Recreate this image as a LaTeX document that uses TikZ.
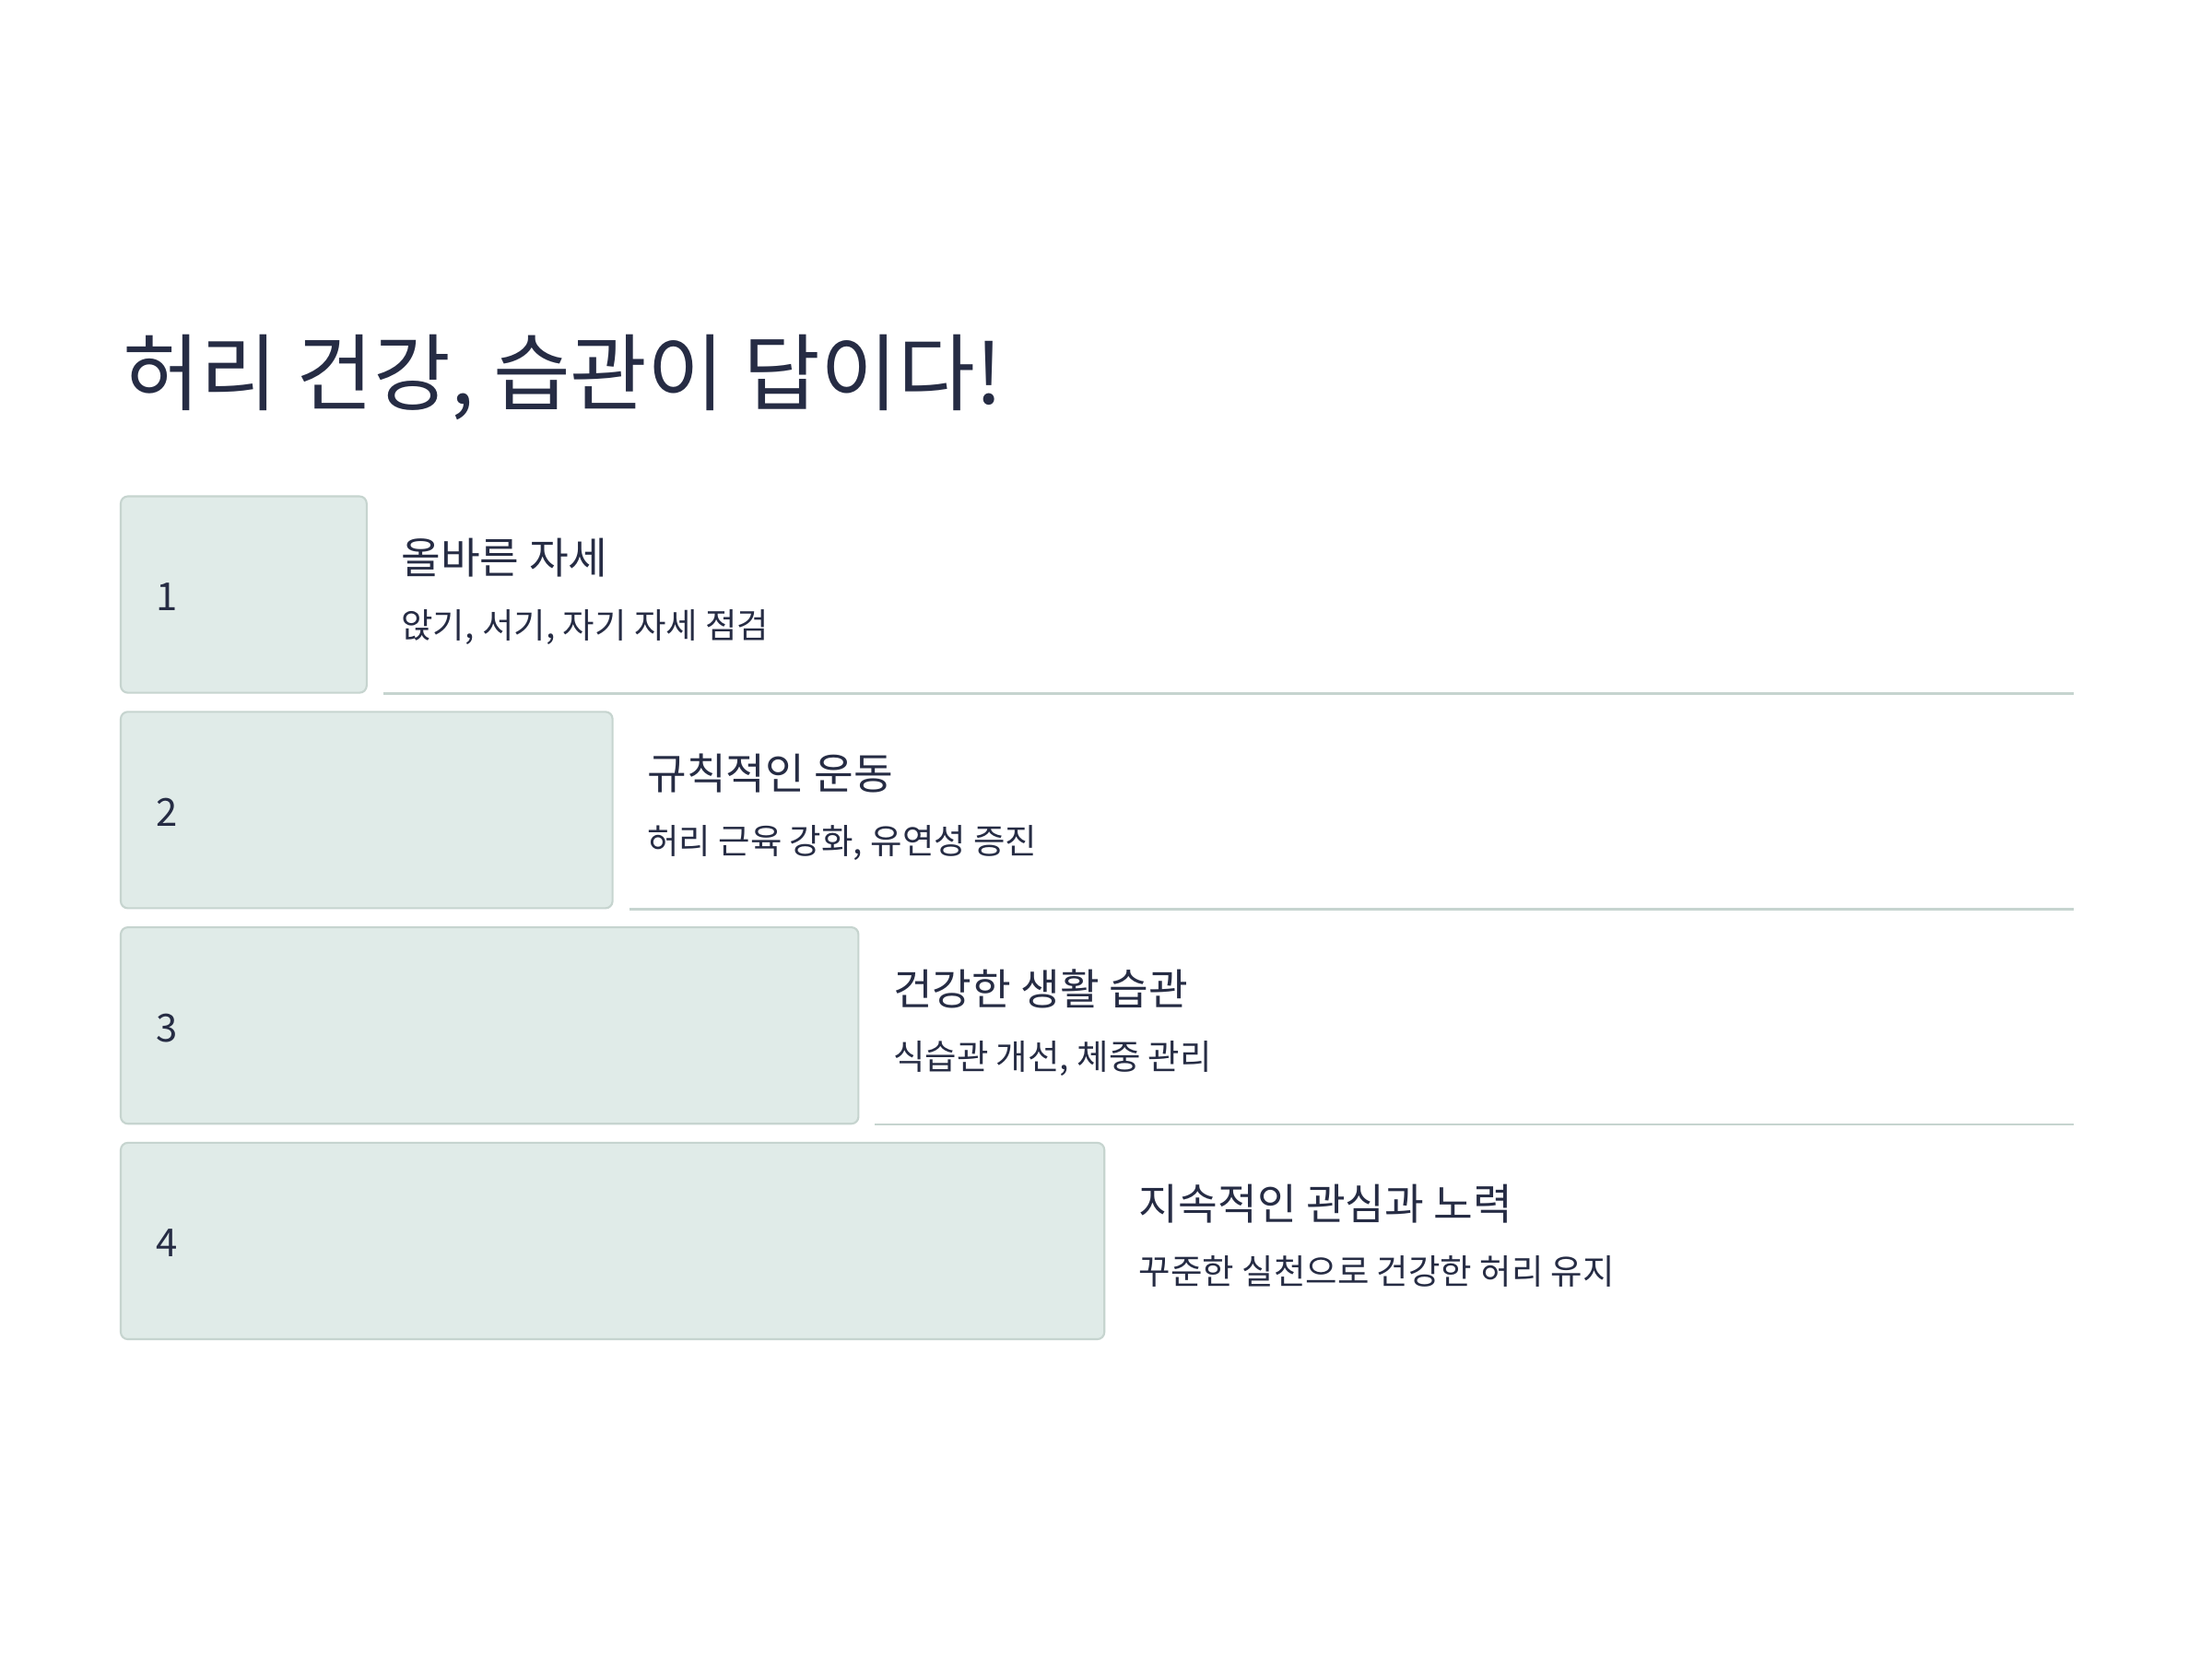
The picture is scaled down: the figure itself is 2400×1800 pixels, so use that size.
\documentclass[tikz,border=0pt]{standalone}
\usepackage{fontspec}
\setmainfont{Noto Sans CJK KR}
\definecolor{ink}{HTML}{262C44}
\definecolor{boxfill}{HTML}{E0EBE8}
\definecolor{boxline}{HTML}{C6D4CF}
\tikzset{
  numbox/.style={draw=boxline, fill=boxfill, line width=0.6pt, rounded corners=2.2pt, inner sep=0pt, outer sep=0pt, anchor=north west, minimum height=2.13cm},
  numtxt/.style={text=ink, inner sep=0pt, anchor=base west, font=\fontsize{11.9}{14}\selectfont},
  headtxt/.style={text=ink, inner sep=0pt, anchor=base west, font=\fontsize{13.2}{16}\selectfont},
  subtxt/.style={text=ink, inner sep=0pt, anchor=base west, font=\fontsize{10.65}{13}\selectfont},
  titletxt/.style={text=ink, inner sep=0pt, anchor=base west, font=\fontsize{25.9}{31}\selectfont},
  sepline/.style={draw=boxline, line width=0.7pt}
}
\begin{document}
\begin{tikzpicture}[x=0.01cm,y=-0.01cm]
\useasboundingbox (0,0) rectangle (2400,1800);
\fill[white] (0,0) rectangle (2400,1800);
\node[titletxt] (title) at (133,438) {허리 건강, 습관이 답이다!};
\foreach \i/\h/\s in {1/올바른 자세/{앉기, 서기, 자기 자세 점검},
                      2/규칙적인 운동/{허리 근육 강화, 유연성 증진},
                      3/건강한 생활 습관/{식습관 개선, 체중 관리},
                      4/지속적인 관심과 노력/{꾸준한 실천으로 건강한 허리 유지}} {
  \pgfmathsetmacro\boxtop{538.5+233.8*(\i-1)}
  \pgfmathsetmacro\boxright{131+266.8*\i}
  \pgfmathsetmacro\boxw{266.8*\i*0.01}
  \node[numbox, minimum width=\boxw cm] (b\i) at (131,\boxtop) {};
  \node[numtxt] (n\i) at (169,\boxtop+124) {\i};
  \node[headtxt] (h\i) at (\boxright+37,\boxtop+84) {\h};
  \node[subtxt] (s\i) at (\boxright+37,\boxtop+154) {\s};
  \ifnum\i<4
    \coordinate (ls\i) at (\boxright+18,\boxtop+214);
    \coordinate (le\i) at (2250,\boxtop+214);
    \draw[sepline] (ls\i) -- (le\i);
  \fi
}
\end{tikzpicture}
\end{document}
